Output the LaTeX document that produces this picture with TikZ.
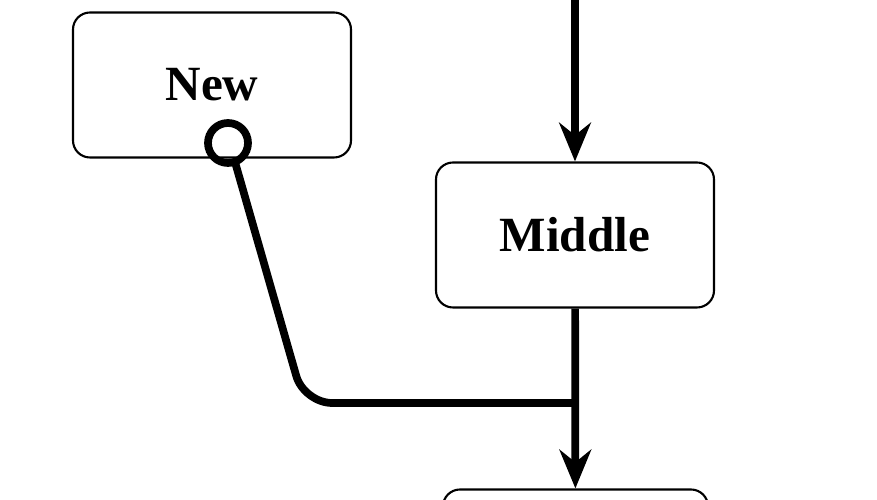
\documentclass[tikz,border=0pt]{standalone}
\usepackage{fontspec}
\setmainfont{Liberation Serif}
\usetikzlibrary{arrows.meta,positioning}
\begin{document}
\begin{tikzpicture}[
    stage/.style={draw, rounded corners=0.17cm, minimum width=2.78cm, minimum height=1.45cm,
      font=\fontsize{14}{16}\selectfont\bfseries, line width=0.6pt},
    flow/.style={line width=2.2pt, -{Stealth[length=11pt,width=9pt]}}
  ]
  \clip (0,0) rectangle (8.77,5);
  % boxes
  \node[stage] (new) at (2.12,4.15) {New};
  \node[stage] (middle) at (5.75,2.65) {Middle};
  \node[stage, minimum width=2.65cm] (last) at (5.755,-0.62) {};
  \coordinate (top) at (5.75,5.1);
  \coordinate (join) at (5.73,0.97);
  % connectors
  \draw[flow] (top) -- (middle);
  \draw[flow] (middle) -- (last);
  \draw[line width=2.2pt] (2.28,3.57) circle (0.2);
  \draw[line width=2.2pt, rounded corners=8pt] (2.35,3.38) -- (3.04,0.97) -- (join);
\end{tikzpicture}
\end{document}
